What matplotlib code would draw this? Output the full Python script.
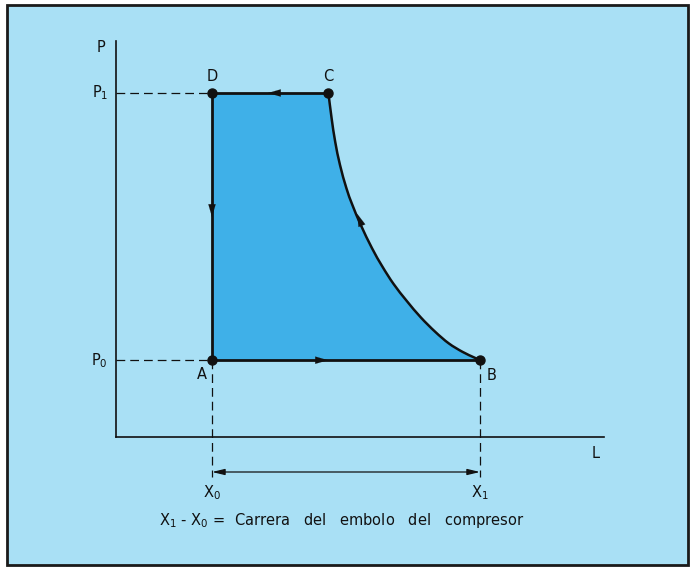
"""Ciclo de un compresor en el diagrama P-L (reproduccion del esquema)."""
import matplotlib

matplotlib.use("Agg")
import matplotlib.pyplot as plt
import numpy as np
from matplotlib.patches import PathPatch, Rectangle
from matplotlib.path import Path

# carrera y presiones (unidades arbitrarias, origen en la esquina de los ejes)
X0, X1 = 2.4, 9.1
X_C = 5.31
P0, P1 = 1.92, 8.6

# compresion C <- B (L, P)
CURVE_L = [5.31, 5.39, 5.48, 5.60, 5.76, 5.91, 6.12, 6.40, 6.66,
           6.94, 7.27, 7.62, 7.98, 8.32, 8.66, 8.95, 9.10]
CURVE_P = [8.60, 7.97, 7.38, 6.80, 6.22, 5.80, 5.30, 4.72, 4.26,
           3.825, 3.40, 2.99, 2.63, 2.34, 2.13, 1.99, 1.92]

POINT_NAMES = ["A", "B", "C", "D"]
POINT_L = [X0, X1, X_C, X0]
POINT_P = [P0, P0, P1, P1]

CAPTION = r"X$_1$ - X$_0$ =  Carrera   del   embolo   del   compresor"

BG = "#a9e0f5"
FILL = "#3fb0e8"
INK = "#111111"


def smooth_segments(xs, ys):
    """Bezier vertices/codes (sin el MOVETO) de una curva suave por los puntos."""
    pts = np.column_stack([xs, ys])
    ext = np.vstack([pts[0], pts, pts[-1]])
    verts, codes = [], []
    for i in range(1, len(ext) - 2):
        p0, p1, p2, p3 = ext[i - 1], ext[i], ext[i + 1], ext[i + 2]
        verts += [p1 + (p2 - p0) / 6, p2 - (p3 - p1) / 6, p2]
        codes += [Path.CURVE4] * 3
    return verts, codes


fig = plt.figure(figsize=(6.94, 5.70), dpi=100, facecolor="white")
fig.patches.append(Rectangle((7 / 694, 5 / 570), 681 / 694, 560 / 570,
                             transform=fig.transFigure, facecolor=BG,
                             edgecolor="#1a1a1a", lw=2, zorder=-10))

ax = fig.add_axes([0, 0, 1, 1])
ax.set_xlim(-2.9, 14.45)
ax.set_ylim(-3.325, 10.925)
ax.axis("off")
ax.patch.set_alpha(0)

# ejes
ax.plot([0, 0], [0, 9.9], color=INK, lw=1.2)
ax.plot([0, 12.2], [0, 0], color=INK, lw=1.2)
ax.text(-0.38, 9.75, "P", fontsize=10.5, ha="center", va="center", color=INK)
ax.text(12.0, -0.4, "L", fontsize=10.5, ha="center", va="center", color=INK)

# area del ciclo
cv, cc = smooth_segments(CURVE_L, CURVE_P)
area = Path([(X0, P1), (CURVE_L[0], CURVE_P[0])] + cv + [(X0, P0), (X0, P1)],
            [Path.MOVETO, Path.LINETO] + cc + [Path.LINETO, Path.CLOSEPOLY])
ax.add_patch(PathPatch(area, facecolor=FILL, lw=0, zorder=1))
ax.add_patch(PathPatch(Path([(CURVE_L[0], CURVE_P[0])] + cv, [Path.MOVETO] + cc),
                       facecolor="none", edgecolor=INK, lw=1.8, zorder=3))
ax.plot([X0, X_C], [P1, P1], color=INK, lw=2, zorder=3)
ax.plot([X0, X0], [P1, P0], color=INK, lw=2, zorder=3)
ax.plot([X0, X1], [P0, P0], color=INK, lw=2, zorder=3)
ax.plot(POINT_L, POINT_P, "o", color=INK, ms=6.5, zorder=4)

# flechas de sentido
arrow = dict(arrowstyle="-|>,head_length=0.9,head_width=0.26", color=INK,
             lw=0.1, shrinkA=0, shrinkB=0)
ax.annotate("", xy=(3.8, P1), xytext=(4.3, P1), arrowprops=arrow, zorder=5)
ax.annotate("", xy=(X0, 5.5), xytext=(X0, 6.0), arrowprops=arrow, zorder=5)
ax.annotate("", xy=(5.3, P0), xytext=(4.8, P0), arrowprops=arrow, zorder=5)
ax.annotate("", xy=(6.03, 5.58), xytext=(6.18, 5.2), arrowprops=arrow, zorder=5)

# lineas de cota
dash = dict(color=INK, lw=0.9, ls=(0, (7, 4)))
ax.plot([0, X0], [P1, P1], **dash)
ax.plot([0, X0], [P0, P0], **dash)
ax.plot([X0, X0], [P0, -1.0], **dash)
ax.plot([X1, X1], [P0, -1.0], **dash)
ax.annotate("", xy=(X0, -0.875), xytext=(X1, -0.875),
            arrowprops=dict(arrowstyle="<|-|>,head_length=0.75,head_width=0.18",
                            color=INK, lw=0.9, shrinkA=0, shrinkB=0))

# rotulos
ax.text(-0.2, P1, r"P$_1$", fontsize=10.5, ha="right", va="center", color=INK)
ax.text(-0.2, P0, r"P$_0$", fontsize=10.5, ha="right", va="center", color=INK)
offsets = {"A": (-0.25, -0.35), "B": (0.3, -0.38), "C": (0.0, 0.42), "D": (0.0, 0.42)}
for name, l, p in zip(POINT_NAMES, POINT_L, POINT_P):
    dx, dy = offsets[name]
    ax.text(l + dx, p + dy, name, fontsize=10.5, ha="center", va="center", color=INK)
ax.text(X0, -1.4, r"X$_0$", fontsize=10.5, ha="center", va="center", color=INK)
ax.text(X1, -1.4, r"X$_1$", fontsize=10.5, ha="center", va="center", color=INK)
ax.text(5.64, -2.1, CAPTION, fontsize=10.5, ha="center", va="center", color=INK)

fig.savefig("out.png", dpi=100, facecolor="white")
